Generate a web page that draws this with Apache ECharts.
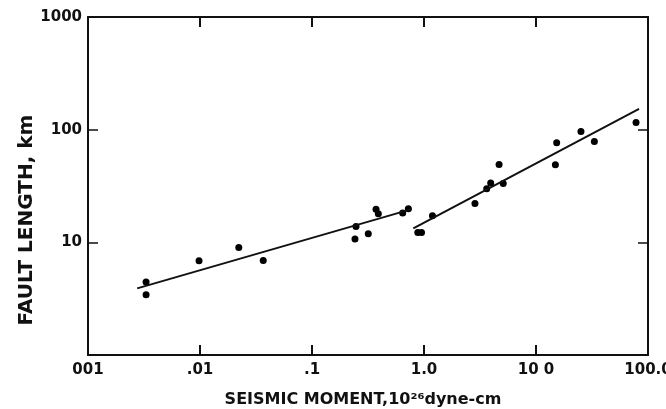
<!DOCTYPE html>
<html>
<head>
<meta charset="utf-8">
<script src="https://cdn.jsdelivr.net/npm/echarts@6/dist/echarts.min.js"></script>
<style>
  html, body { margin: 0; padding: 0; background: #fff; }
  #main { width: 666px; height: 409px; }
</style>
</head>
<body>
<div id="main"></div>
<script>
// measured points: seismic moment (10^26 dyne-cm), fault length (km)
var moment = [0.0033, 0.0033, 0.0098, 0.0222, 0.0367, 0.242, 0.247, 0.318, 0.373, 0.391,
  0.645, 0.725, 0.88, 0.95, 1.19, 2.85, 3.63, 3.94, 5.10, 4.68,
  14.9, 15.3, 25.2, 33.2, 78.2];
var faultLength = [4.44, 3.43, 6.87, 9.01, 6.91, 10.7, 13.8, 11.9, 19.7, 17.9,
  18.2, 19.9, 12.2, 12.2, 17.2, 22.1, 29.9, 33.6, 33.3, 49.1,
  48.8, 76.5, 96.4, 78.6, 115.8];

// fitted lines (end points)
var fitSmallX = [0.00275, 0.776];
var fitSmallY = [3.90, 19.7];
var fitLargeX = [0.803, 83.2];
var fitLargeY = [13.3, 153];

// tick labels as printed
var xTickValues = [0.001, 0.01, 0.1, 1, 10, 100];
var xTickLabels = ['001', '.01', '.1', '1.0', '10 0', '100.0'];
var yTickValues = [1, 10, 100, 1000];
var yTickLabels = ['', '10', '100', '1000'];

var ink = '#111';
var font = 'DejaVu Sans';

function pairs(xs, ys) {
  var out = [];
  for (var i = 0; i < xs.length; i++) out.push([xs[i], ys[i]]);
  return out;
}
function tickLabel(values, labels) {
  return function (v) {
    for (var i = 0; i < values.length; i++) {
      if (Math.abs(Math.log10(v) - Math.log10(values[i])) < 1e-6) return labels[i];
    }
    return '';
  };
}

var chart = echarts.init(document.getElementById('main'), null, { renderer: 'canvas' });

var baseX = {
  type: 'log', logBase: 10, min: 0.001, max: 100,
  axisLine: { show: true, lineStyle: { color: ink, width: 2 } },
  axisTick: { show: true, inside: true, length: 10, lineStyle: { color: ink, width: 2 } },
  minorTick: { show: false },
  splitLine: { show: false }
};
var baseY = {
  type: 'log', logBase: 10, min: 1, max: 1000,
  axisLine: { show: true, lineStyle: { color: ink, width: 2 } },
  axisTick: { show: true, inside: true, length: 10, lineStyle: { color: ink, width: 1.5 } },
  minorTick: { show: false },
  splitLine: { show: false }
};

var option = {
  backgroundColor: '#fff',
  animation: false,
  grid: { left: 88, right: 18, top: 17, bottom: 54, outerBoundsMode: 'none', containLabel: false },
  xAxis: [
    Object.assign({}, baseX, {
      position: 'bottom',
      axisLabel: {
        show: true, margin: 8, color: ink, fontFamily: font, fontSize: 15, fontWeight: 'bold',
        formatter: tickLabel(xTickValues, xTickLabels)
      }
    }),
    Object.assign({}, baseX, { position: 'top', axisLabel: { show: false } })
  ],
  yAxis: [
    Object.assign({}, baseY, {
      position: 'left',
      axisLabel: {
        show: true, margin: 6, color: ink, fontFamily: font, fontSize: 15, fontWeight: 'bold',
        formatter: tickLabel(yTickValues, yTickLabels)
      }
    }),
    Object.assign({}, baseY, { position: 'right', axisLabel: { show: false } })
  ],
  graphic: [
    {
      type: 'text', x: 27, y: 220, rotation: Math.PI / 2,
      style: {
        text: 'FAULT LENGTH, km', fill: ink, font: 'bold 20px "DejaVu Sans"',
        textAlign: 'center', textVerticalAlign: 'middle'
      }
    },
    {
      type: 'text', x: 363, y: 400,
      style: {
        text: 'SEISMIC MOMENT,10²⁶dyne-cm', fill: ink, font: 'bold 16px "DejaVu Sans"',
        textAlign: 'center', textVerticalAlign: 'middle'
      }
    }
  ],
  series: [
    {
      type: 'scatter', xAxisIndex: 0, yAxisIndex: 0,
      symbol: 'circle', symbolSize: 7,
      itemStyle: { color: '#000', opacity: 1 },
      data: pairs(moment, faultLength)
    },
    {
      type: 'line', xAxisIndex: 0, yAxisIndex: 0,
      showSymbol: false, silent: true,
      lineStyle: { color: ink, width: 2 },
      data: pairs(fitSmallX, fitSmallY)
    },
    {
      type: 'line', xAxisIndex: 0, yAxisIndex: 0,
      showSymbol: false, silent: true,
      lineStyle: { color: ink, width: 2 },
      data: pairs(fitLargeX, fitLargeY)
    }
  ]
};

chart.setOption(option);
</script>
</body>
</html>
